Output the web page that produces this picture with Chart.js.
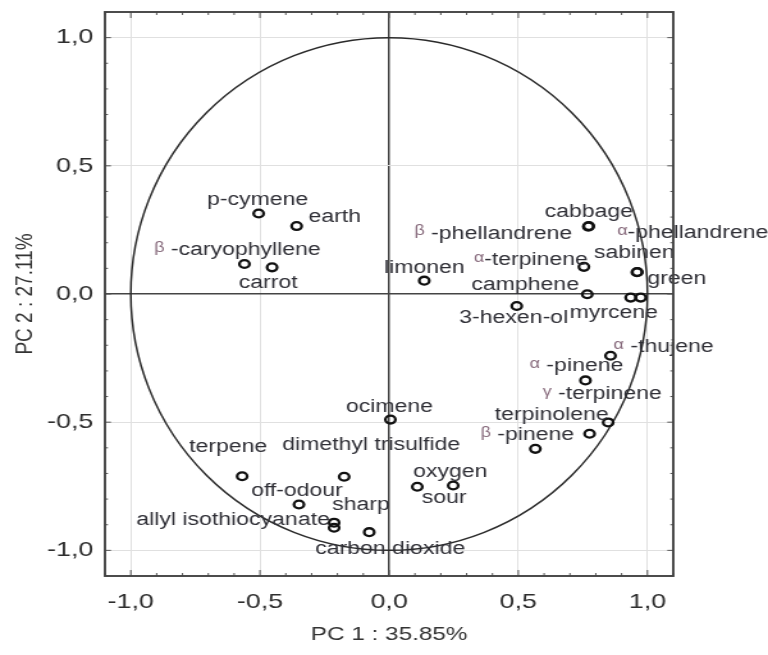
<!DOCTYPE html>
<html>
<head>
<meta charset="utf-8">
<script src="https://cdn.jsdelivr.net/npm/chart.js@4.4.1/dist/chart.umd.min.js"></script>
<style>
  html, body { margin: 0; padding: 0; background: #fff; overflow: hidden; }
  /* the source picture is stretched horizontally, so draw narrow and stretch */
  #wrap { width: 600px; height: 655px; transform: scaleX(1.28); transform-origin: 0 0; }
</style>
</head>
<body>
<div id="wrap"><canvas id="pcaChart" width="600" height="655"></canvas></div>
<script>
// PCA loadings
const variables = [
  'p-cymene', 'earth', 'β -caryophyllene', 'carrot', 'limonen',
  'cabbage', 'β -phellandrene', 'α-phellandrene', 'α-terpinene', 'sabinen',
  'green', 'camphene', 'myrcene', '3-hexen-ol', 'α -thujene',
  'α -pinene', 'γ -terpinene', 'terpinolene', 'β -pinene', 'ocimene',
  'dimethyl trisulfide', 'terpene', 'off-odour', 'sharp', 'allyl isothiocyanate',
  'carbon dioxide', 'oxygen', 'sour'
];
const pc1 = [
  -0.505, -0.358, -0.560, -0.453, 0.136,
  0.773, 0.771, 0.959, 0.754, 0.961,
  0.974, 0.767, 0.935, 0.494, 0.857,
  0.760, 0.848, 0.776, 0.566, 0.005,
  -0.174, -0.569, -0.349, -0.213, -0.213,
  -0.077, 0.109, 0.248
];
const pc2 = [
  0.314, 0.265, 0.117, 0.104, 0.052,
  0.265, 0.263, 0.085, 0.106, 0.086,
  -0.014, -0.001, -0.014, -0.047, -0.241,
  -0.337, -0.501, -0.545, -0.604, -0.490,
  -0.713, -0.711, -0.821, -0.892, -0.912,
  -0.929, -0.752, -0.747
];
const tickValues = [-1, -0.5, 0, 0.5, 1];
const tickLabels = ['-1,0', '-0,5', '0,0', '0,5', '1,0'];

// label placement relative to its point (screen px)
const labelDx = [
  -1, 38, -7, -4, 0,
  0, -95, 56, -53, -3,
  36, -62, -17, -3, 53,
  -9, -6, -38, -8, -1,
  27, -14, -2, 27, -101,
  21, 33, -9
];
const labelDy = [
  -13, -9, -14, 16, -13,
  -14, 7, -39, -7, -19,
  -19, -9, 15, 12, -9,
  -14, -28, -19, -14, -13,
  -32, -29, -13, -18, -8,
  17, -15, 13
];

const STRETCH = 1.28;
const FONT = "'Liberation Sans', Arial, sans-serif";

const pcaDecor = {
  id: 'pcaDecor',
  beforeDatasetsDraw(chart) {
    const { ctx, scales: { x, y } } = chart;
    const cx = x.getPixelForValue(0), cy = y.getPixelForValue(0);
    const rx = x.getPixelForValue(1) - cx, ry = cy - y.getPixelForValue(1);
    ctx.save();
    ctx.beginPath();
    ctx.ellipse(cx, cy, rx, ry, 0, 0, Math.PI * 2);
    ctx.strokeStyle = '#2a2a2a';
    ctx.lineWidth = 1.5;
    ctx.stroke();
    ctx.restore();
  },
  afterDatasetsDraw(chart) {
    const { ctx, scales: { x, y } } = chart;
    ctx.save();
    ctx.textBaseline = 'middle';
    variables.forEach((name, i) => {
      const px = x.getPixelForValue(pc1[i]) + labelDx[i] / STRETCH;
      const py = y.getPixelForValue(pc2[i]) + labelDy[i];
      let greek = '', rest = name;
      if (/^[αβγ]/.test(name)) { greek = name[0]; rest = name.slice(1); }
      ctx.font = '14px ' + FONT;
      const gw = greek ? ctx.measureText(greek).width : 0;
      ctx.font = '18px ' + FONT;
      const rw = ctx.measureText(rest).width;
      let left = px - (gw + rw) / 2;
      if (greek) {
        ctx.font = '14px ' + FONT;
        ctx.fillStyle = '#85687a';
        ctx.textAlign = 'left';
        ctx.fillText(greek, left, py - 2);
        left += gw;
      }
      ctx.font = '18px ' + FONT;
      ctx.fillStyle = '#2f2f36';
      ctx.textAlign = 'left';
      ctx.fillText(rest, left, py);
    });
    ctx.restore();
  },
  afterDraw(chart) {
    const { ctx, chartArea: a, scales: { x, y } } = chart;
    ctx.save();
    ctx.strokeStyle = '#555';
    ctx.lineWidth = 1;
    // inward ticks on all sides
    for (let i = -11; i <= 11; i++) {
      const v = i / 10;
      const major = i % 5 === 0;
      const len = major ? 6 : 3;
      const xp = x.getPixelForValue(v);
      const yp = y.getPixelForValue(v);
      ctx.beginPath();
      ctx.moveTo(xp, a.bottom); ctx.lineTo(xp, a.bottom - len);
      ctx.moveTo(xp, a.top); ctx.lineTo(xp, a.top + len);
      ctx.moveTo(a.left, yp); ctx.lineTo(a.left + len / STRETCH, yp);
      ctx.moveTo(a.right, yp); ctx.lineTo(a.right - len / STRETCH, yp);
      ctx.stroke();
    }
    // frame
    ctx.strokeStyle = '#444';
    ctx.lineWidth = 1.9;
    ctx.strokeRect(a.left, a.top, a.right - a.left, a.bottom - a.top);
    ctx.restore();
  }
};

function axis(title, titlePad, tickPad, fitKey, fitSize) {
  return {
    type: 'linear',
    min: -1.1,
    max: 1.1,
    afterBuildTicks: scale => { scale.ticks = tickValues.map(v => ({ value: v })); },
    afterFit: scale => {
      scale[fitKey] = fitSize;
      // ticks sit inside the range, so no extra edge padding is needed
      scale.paddingTop = 0;
      scale.paddingBottom = 0;
      scale.paddingLeft = 0;
      scale.paddingRight = 0;
    },
    ticks: {
      padding: tickPad,
      color: '#2e2e2e',
      font: { family: FONT, size: 21 },
      callback: v => tickLabels[tickValues.indexOf(v)]
    },
    grid: {
      drawTicks: false,
      color: c => c.tick && c.tick.value === 0 ? '#444' : '#e0e0e0',
      lineWidth: c => c.tick && c.tick.value === 0 ? 1.5 : 1
    },
    border: { display: false },
    title: {
      display: true,
      text: title,
      color: '#333',
      font: { family: FONT, size: 19 },
      padding: titlePad
    }
  };
}

document.addEventListener('DOMContentLoaded', function() {
  const ctx = document.getElementById('pcaChart').getContext('2d');
  new Chart(ctx, {
    type: 'scatter',
    data: {
      datasets: [{
        label: 'loadings',
        data: pc1.map((v, i) => ({ x: v, y: pc2[i] })),
        pointStyle: 'circle',
        pointRadius: 3.9,
        borderWidth: 2.3,
        borderColor: '#111',
        backgroundColor: 'rgba(0,0,0,0)'
      }]
    },
    options: {
      responsive: false,
      animation: false,
      devicePixelRatio: 1,
      layout: {
        autoPadding: false,
        padding: { top: 12, right: 74, bottom: 0, left: 0 }
      },
      plugins: {
        legend: { display: false },
        tooltip: { enabled: false }
      },
      scales: {
        x: axis('PC 1 : 35.85%', { top: 0, bottom: 9 }, 14, 'height', 79),
        y: axis('PC 2 : 27.11%', { top: 8, bottom: 0 }, 9, 'width', 82)
      }
    },
    plugins: [pcaDecor]
  });
});
</script>
</body>
</html>
